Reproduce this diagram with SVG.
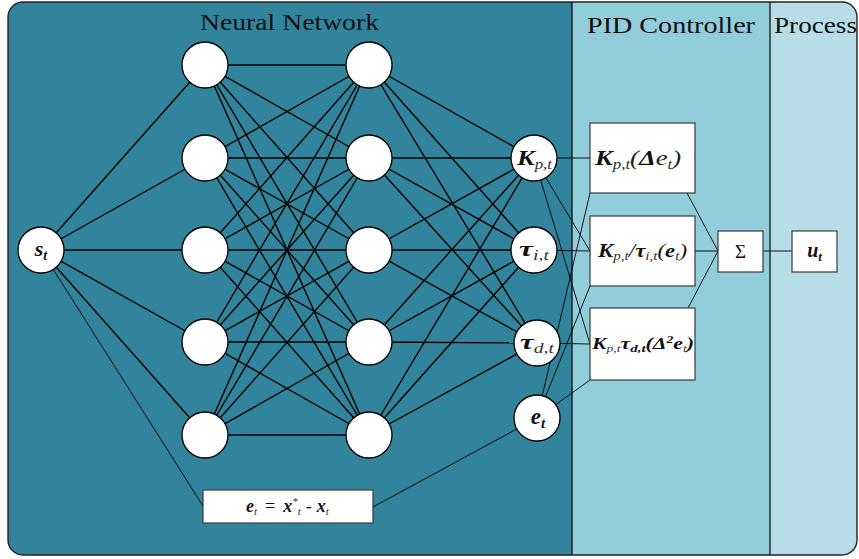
<svg xmlns="http://www.w3.org/2000/svg" width="859" height="559" viewBox="0 0 859 559">
<defs>
<style>
.nd{fill:#fff;stroke:#000;stroke-width:1.3}
.bx{fill:#fff;stroke:#3a3a3a;stroke-width:1.2}
.c{stroke:#000;stroke-width:1.4;fill:none}
.t{stroke:#000;stroke-width:0.9;fill:none}
text{font-family:"Liberation Serif","Times New Roman",serif;fill:#111}
.bi{font-weight:bold;font-style:italic}
.i{font-style:italic}
.sub{font-style:italic;fill:#333}
.ttl{font-size:24px;fill:#111}
</style>
<clipPath id="frame"><rect x="8" y="2" width="849" height="553" rx="15" ry="15"/></clipPath>
</defs>
<g id="background">
<g clip-path="url(#frame)">
<rect x="0" y="0" width="572" height="559" fill="#31849b"/>
<rect x="572" y="0" width="198" height="559" fill="#92cddc"/>
<rect x="770" y="0" width="89" height="559" fill="#b7dee8"/>
</g>
<line x1="572" y1="2" x2="572" y2="555" stroke="#000" stroke-width="1.2"/>
<line x1="770" y1="2" x2="770" y2="555" stroke="#000" stroke-width="1.2"/>
<rect x="8" y="2" width="849" height="553" rx="15" ry="15" fill="none" stroke="#222" stroke-width="1.4"/>
<text class="ttl" x="200" y="30" textLength="179" lengthAdjust="spacingAndGlyphs">Neural Network</text>
<text class="ttl" x="587" y="33" textLength="168" lengthAdjust="spacingAndGlyphs">PID Controller</text>
<text class="ttl" x="774" y="33" textLength="83" lengthAdjust="spacingAndGlyphs">Process</text>
</g>
<g id="connectors">
<!-- input to hidden 1 -->
<line class="c" x1="41" y1="250" x2="205" y2="65"/>
<line class="c" x1="41" y1="250" x2="205" y2="158"/>
<line class="c" x1="41" y1="250" x2="205" y2="250"/>
<line class="c" x1="41" y1="250" x2="205" y2="342"/>
<line class="c" x1="41" y1="250" x2="205" y2="435"/>
<!-- hidden 1 to hidden 2 -->
<line class="c" x1="205" y1="65" x2="369" y2="65"/>
<line class="c" x1="205" y1="65" x2="369" y2="158"/>
<line class="c" x1="205" y1="65" x2="369" y2="250"/>
<line class="c" x1="205" y1="65" x2="369" y2="342"/>
<line class="c" x1="205" y1="65" x2="369" y2="435"/>
<line class="c" x1="205" y1="158" x2="369" y2="65"/>
<line class="c" x1="205" y1="158" x2="369" y2="158"/>
<line class="c" x1="205" y1="158" x2="369" y2="250"/>
<line class="c" x1="205" y1="158" x2="369" y2="342"/>
<line class="c" x1="205" y1="158" x2="369" y2="435"/>
<line class="c" x1="205" y1="250" x2="369" y2="65"/>
<line class="c" x1="205" y1="250" x2="369" y2="158"/>
<line class="c" x1="205" y1="250" x2="369" y2="250"/>
<line class="c" x1="205" y1="250" x2="369" y2="342"/>
<line class="c" x1="205" y1="250" x2="369" y2="435"/>
<line class="c" x1="205" y1="342" x2="369" y2="65"/>
<line class="c" x1="205" y1="342" x2="369" y2="158"/>
<line class="c" x1="205" y1="342" x2="369" y2="250"/>
<line class="c" x1="205" y1="342" x2="369" y2="342"/>
<line class="c" x1="205" y1="342" x2="369" y2="435"/>
<line class="c" x1="205" y1="435" x2="369" y2="65"/>
<line class="c" x1="205" y1="435" x2="369" y2="158"/>
<line class="c" x1="205" y1="435" x2="369" y2="250"/>
<line class="c" x1="205" y1="435" x2="369" y2="342"/>
<line class="c" x1="205" y1="435" x2="369" y2="435"/>
<!-- hidden 2 to outputs -->
<line class="c" x1="369" y1="65" x2="534" y2="158"/>
<line class="c" x1="369" y1="65" x2="534" y2="250"/>
<line class="c" x1="369" y1="65" x2="537" y2="343"/>
<line class="c" x1="369" y1="158" x2="534" y2="158"/>
<line class="c" x1="369" y1="158" x2="534" y2="250"/>
<line class="c" x1="369" y1="158" x2="537" y2="343"/>
<line class="c" x1="369" y1="250" x2="534" y2="158"/>
<line class="c" x1="369" y1="250" x2="534" y2="250"/>
<line class="c" x1="369" y1="250" x2="537" y2="343"/>
<line class="c" x1="369" y1="342" x2="534" y2="158"/>
<line class="c" x1="369" y1="342" x2="534" y2="250"/>
<line class="c" x1="369" y1="342" x2="537" y2="343"/>
<line class="c" x1="369" y1="435" x2="534" y2="158"/>
<line class="c" x1="369" y1="435" x2="534" y2="250"/>
<line class="c" x1="369" y1="435" x2="537" y2="343"/>
<!-- error path -->
<line class="t" x1="41" y1="250" x2="203" y2="506"/>
<line class="t" x1="373" y1="507" x2="537" y2="418"/>
<!-- outputs to PID terms -->
<line class="t" x1="534" y1="158" x2="590" y2="158"/>
<line class="t" x1="534" y1="158" x2="590" y2="251"/>
<line class="t" x1="534" y1="158" x2="590" y2="344"/>
<line class="t" x1="534" y1="250" x2="590" y2="251"/>
<line class="t" x1="537" y1="343" x2="590" y2="344"/>
<line class="t" x1="537" y1="418" x2="590" y2="193"/>
<line class="t" x1="537" y1="418" x2="590" y2="286"/>
<line class="t" x1="537" y1="418" x2="590" y2="380"/>
<!-- PID terms to sum, sum to output -->
<line class="t" x1="687" y1="193" x2="718" y2="251"/>
<line class="t" x1="695" y1="251" x2="718" y2="251"/>
<line class="t" x1="688" y1="308" x2="718" y2="251"/>
<line class="t" x1="763" y1="251" x2="792" y2="251"/>
</g>
<g id="node-s">
<circle class="nd" cx="41" cy="250" r="23"/>
<text x="41" y="256" text-anchor="middle"><tspan class="bi" font-size="22">s</tspan><tspan class="bi" font-size="14" dy="4">t</tspan></text>
</g>
<g id="hidden1">
<circle class="nd" cx="205" cy="65" r="23"/>
<circle class="nd" cx="205" cy="158" r="23"/>
<circle class="nd" cx="205" cy="250" r="23"/>
<circle class="nd" cx="205" cy="342" r="23"/>
<circle class="nd" cx="205" cy="435" r="23"/>
</g>
<g id="hidden2">
<circle class="nd" cx="369" cy="65" r="23"/>
<circle class="nd" cx="369" cy="158" r="23"/>
<circle class="nd" cx="369" cy="250" r="23"/>
<circle class="nd" cx="369" cy="342" r="23"/>
<circle class="nd" cx="369" cy="435" r="23"/>
</g>
<g id="node-kp">
<circle class="nd" cx="534" cy="158" r="23"/>
<text x="517" y="165" textLength="35" lengthAdjust="spacingAndGlyphs"><tspan class="bi" font-size="22">K</tspan><tspan class="sub" font-size="14" dy="4">p,t</tspan></text>
</g>
<g id="node-ti">
<circle class="nd" cx="534" cy="250" r="23"/>
<text x="519" y="256" textLength="30" lengthAdjust="spacingAndGlyphs"><tspan class="bi" font-size="22">τ</tspan><tspan class="sub" font-size="14" dy="4">i,t</tspan></text>
</g>
<g id="node-td">
<circle class="nd" cx="537" cy="343" r="23"/>
<text x="520" y="349" textLength="34" lengthAdjust="spacingAndGlyphs"><tspan class="bi" font-size="22">τ</tspan><tspan class="sub" font-size="14" dy="4">d,t</tspan></text>
</g>
<g id="node-e">
<circle class="nd" cx="537" cy="418" r="23"/>
<text x="538" y="424" text-anchor="middle"><tspan class="bi" font-size="23">e</tspan><tspan class="bi" font-size="15" dy="4">t</tspan></text>
</g>
<g id="formula">
<rect class="bx" x="203" y="490" width="170" height="33"/>
<text x="246" y="512"><tspan class="bi" font-size="18">e</tspan><tspan class="sub" font-size="11" dy="3">t</tspan><tspan font-size="18" dx="8" dy="-3">=</tspan><tspan class="bi" font-size="18" dx="8">x</tspan><tspan class="sub" font-size="11" dy="-7">*</tspan><tspan class="sub" font-size="11" dx="0" dy="10">t</tspan><tspan font-size="18" dx="5" dy="-3">-</tspan><tspan class="bi" font-size="18" dx="5">x</tspan><tspan class="sub" font-size="11" dy="3">t</tspan></text>
</g>
<g id="term-p">
<rect class="bx" x="590" y="123" width="105" height="70"/>
<text x="595" y="165" textLength="86" lengthAdjust="spacingAndGlyphs"><tspan class="bi" font-size="22">K</tspan><tspan class="sub" font-size="14" dy="4">p,t</tspan><tspan class="i" font-size="22" dy="-4" fill="#222">(</tspan><tspan class="bi" font-size="22">Δ</tspan><tspan class="i" font-size="22" fill="#222">e</tspan><tspan class="sub" font-size="14" dy="4">t</tspan><tspan class="i" font-size="22" dy="-4" fill="#222">)</tspan></text>
</g>
<g id="term-i">
<rect class="bx" x="590" y="216" width="105" height="70"/>
<text x="598" y="257" textLength="89" lengthAdjust="spacingAndGlyphs"><tspan class="bi" font-size="18">K</tspan><tspan class="sub" font-size="12" dy="3">p,t</tspan><tspan class="i" font-size="18" dy="-3">/</tspan><tspan class="bi" font-size="18">τ</tspan><tspan class="sub" font-size="12" dy="3">i,t</tspan><tspan class="i" font-size="18" dy="-3">(</tspan><tspan class="bi" font-size="18">e</tspan><tspan class="sub" font-size="12" dy="3">t</tspan><tspan class="i" font-size="18" dy="-3">)</tspan></text>
</g>
<g id="term-d">
<rect class="bx" x="590" y="308" width="105" height="72"/>
<text x="592" y="349" textLength="102" lengthAdjust="spacingAndGlyphs"><tspan class="bi" font-size="16">K</tspan><tspan class="sub" font-size="10" dy="3">p,t</tspan><tspan class="bi" font-size="16" dy="-3">τ</tspan><tspan class="bi" font-size="11" dy="3">d,t</tspan><tspan class="bi" font-size="16" dy="-3">(Δ</tspan><tspan class="bi" font-size="10" dy="-6">2</tspan><tspan class="bi" font-size="16" dy="6">e</tspan><tspan class="sub" font-size="10" dy="3">t</tspan><tspan class="bi" font-size="16" dy="-3">)</tspan></text>
</g>
<g id="sum">
<rect class="bx" x="718" y="231" width="45" height="41"/>
<text x="740.5" y="258" text-anchor="middle" font-size="19">Σ</text>
</g>
<g id="output-u">
<rect class="bx" x="792" y="231" width="45" height="41"/>
<text x="814.5" y="257" text-anchor="middle"><tspan class="bi" font-size="20">u</tspan><tspan class="bi" font-size="13" dy="4">t</tspan></text>
</g>
</svg>
